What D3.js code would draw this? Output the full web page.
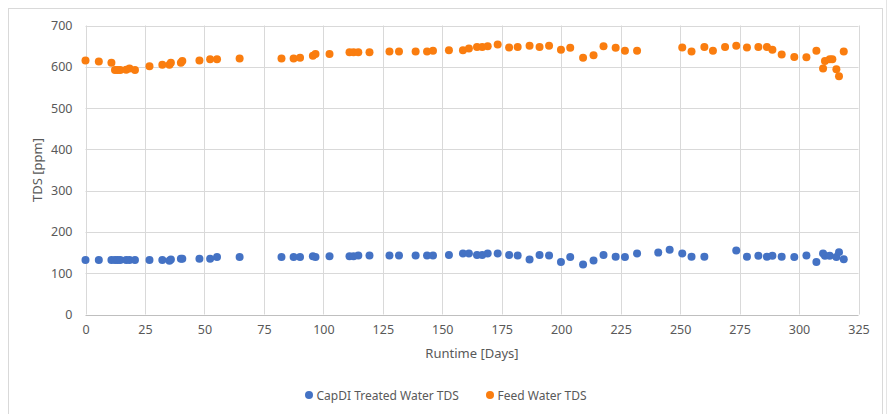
<!DOCTYPE html>
<html>
<head>
<meta charset="utf-8">
<script src="https://cdn.jsdelivr.net/npm/d3@7"></script>
<style>
  body { margin: 0; background: #fff; }
  text { font-family: "Noto Sans", "Open Sans", sans-serif; fill: #595959; }
</style>
</head>
<body>
<script>
// ---- data ----
var feedDays = [0, 5.6, 10.9, 12.4, 13.5, 14.6, 17.1, 18.5, 20.8,
  26.9, 32.3, 35.3, 35.9, 40.1, 40.7, 47.9, 52.4, 55.3, 64.8,
  82.4, 87.5, 90.2, 95.6, 96.7, 102.6, 111, 112.7, 114.7, 119.4,
  127.8, 131.8, 138.8, 143.6, 146.1, 152.8, 158.7, 161.2, 164.6, 166.8,
  169.1, 173.3, 178.1, 181.7, 186.7, 190.9, 194.9, 199.9, 203.8, 209.2,
  213.6, 217.8, 222.9, 226.8, 231.9, 250.9, 254.8, 260.2, 263.8, 268.9,
  273.6, 278.1, 282.9, 286.5, 288.8, 292.7, 298, 303.1, 307.3, 310.1,
  310.9, 312.9, 314, 315.7, 316.8, 318.8];
var feedTDS = [615, 613, 610, 592, 592, 592, 593, 596, 592,
  601, 605, 605, 610, 610, 614, 615, 618, 618, 620,
  620, 620, 622, 627, 631, 631, 635, 635, 635, 635,
  637, 637, 637, 637, 639, 640, 640, 644, 648, 648,
  650, 654, 647, 648, 651, 648, 651, 641, 646, 622,
  628, 650, 646, 639, 639, 647, 637, 648, 639, 648,
  651, 647, 648, 648, 641, 630, 624, 623, 639, 596,
  614, 618, 618, 594, 577, 637];

var treatedDays = [0, 5.6, 10.9, 12.4, 13.5, 14.6, 17.1, 18.5, 20.8,
  26.9, 32.3, 35.3, 35.9, 40.1, 40.7, 47.9, 52.4, 55.3, 64.8,
  82.4, 87.5, 90.2, 95.6, 96.7, 102.6, 111, 112.7, 114.7, 119.4,
  127.8, 131.8, 138.8, 143.6, 146.1, 152.8, 158.7, 161.2, 164.6, 166.8,
  169.1, 173.3, 178.1, 181.7, 186.7, 190.9, 194.9, 199.9, 203.8, 209.2,
  213.6, 217.8, 222.9, 226.8, 231.9, 240.8, 245.6, 250.9, 254.8, 260.2,
  273.6, 278.1, 282.9, 286.5, 288.8, 292.7, 298, 303.1, 307.3, 310.1,
  310.9, 312.9, 315.7, 316.8, 318.8];
var treatedTDS = [132, 132, 132, 132, 132, 132, 132, 132, 132,
  132, 132, 130, 133, 135, 135, 135, 135, 139, 139,
  139, 139, 139, 141, 139, 141, 141, 141, 143, 143,
  143, 143, 143, 143, 143, 144, 148, 148, 144, 144,
  148, 148, 144, 143, 133, 144, 143, 127, 139, 121,
  131, 144, 140, 139, 148, 150, 157, 148, 140, 140,
  155, 140, 142, 140, 142, 140, 139, 143, 127, 148,
  142, 142, 139, 151, 134];

var xTicks = [0, 25, 50, 75, 100, 125, 150, 175, 200, 225, 250, 275, 300, 325];
var yTicks = [0, 100, 200, 300, 400, 500, 600, 700];
var seriesNames = ["CapDI Treated Water TDS", "Feed Water TDS"];
var seriesColors = ["#4472C4", "#FA7D0F"];

// ---- layout ----
var width = 891, height = 414;
var svg = d3.select("body").append("svg")
  .attr("width", width)
  .attr("height", height);

// chart frame
svg.append("rect")
  .attr("x", 8.5).attr("y", 8.5)
  .attr("width", 874).attr("height", 430)
  .attr("fill", "none").attr("stroke", "#d9d9d9");
svg.append("line")
  .attr("x1", 886.5).attr("x2", 886.5).attr("y1", 0).attr("y2", height)
  .attr("stroke", "#e4e4e4");

var x = d3.scaleLinear().domain([0, 325]).range([85.5, 858.5]);
var y = d3.scaleLinear().domain([0, 700]).range([314.5, 25.5]);

// gridlines
svg.append("g").selectAll("line").data(xTicks).enter().append("line")
  .attr("x1", d => Math.round(x(d)) + 0.5).attr("x2", d => Math.round(x(d)) + 0.5)
  .attr("y1", y(700)).attr("y2", y(0))
  .attr("stroke", "#d9d9d9");
svg.append("g").selectAll("line").data(yTicks).enter().append("line")
  .attr("x1", x(0)).attr("x2", x(325))
  .attr("y1", d => Math.round(y(d)) + 0.5).attr("y2", d => Math.round(y(d)) + 0.5)
  .attr("stroke", d => d === 0 ? "#bfbfbf" : "#d9d9d9");

// axes (labels only)
var xAxis = svg.append("g")
  .attr("transform", "translate(0," + y(0) + ")")
  .call(d3.axisBottom(x).tickValues(xTicks).tickSize(0).tickPadding(11));
var yAxis = svg.append("g")
  .attr("transform", "translate(" + x(0) + ",0)")
  .call(d3.axisLeft(y).tickValues(yTicks).tickSize(0).tickPadding(13));
[xAxis, yAxis].forEach(function(a) {
  a.select(".domain").remove();
  a.selectAll("text").attr("font-size", 12.5).style("fill", "#595959")
    .attr("font-family", "Noto Sans, sans-serif");
});

// axis titles
svg.append("text")
  .attr("x", (x(0) + x(325)) / 2).attr("y", 358)
  .attr("text-anchor", "middle").attr("font-size", 13)
  .text("Runtime [Days]");
svg.append("text")
  .attr("transform", "translate(42," + (y(350)) + ") rotate(-90)")
  .attr("text-anchor", "middle").attr("font-size", 13)
  .text("TDS [ppm]");

// points
function plot(days, vals, color) {
  svg.append("g").selectAll("circle")
    .data(days.map((d, i) => [d, vals[i]]))
    .enter().append("circle")
    .attr("cx", d => x(d[0]))
    .attr("cy", d => y(d[1]))
    .attr("r", 4)
    .attr("fill", color);
}
plot(treatedDays, treatedTDS, seriesColors[0]);
plot(feedDays, feedTDS, seriesColors[1]);

// legend
var legendX = [309, 490];
seriesNames.forEach(function(name, i) {
  svg.append("circle")
    .attr("cx", legendX[i]).attr("cy", 395).attr("r", 4)
    .attr("fill", seriesColors[i]);
  svg.append("text")
    .attr("x", legendX[i] + 7.5).attr("y", 399.5)
    .attr("font-size", 12)
    .text(name);
});
</script>
</body>
</html>
